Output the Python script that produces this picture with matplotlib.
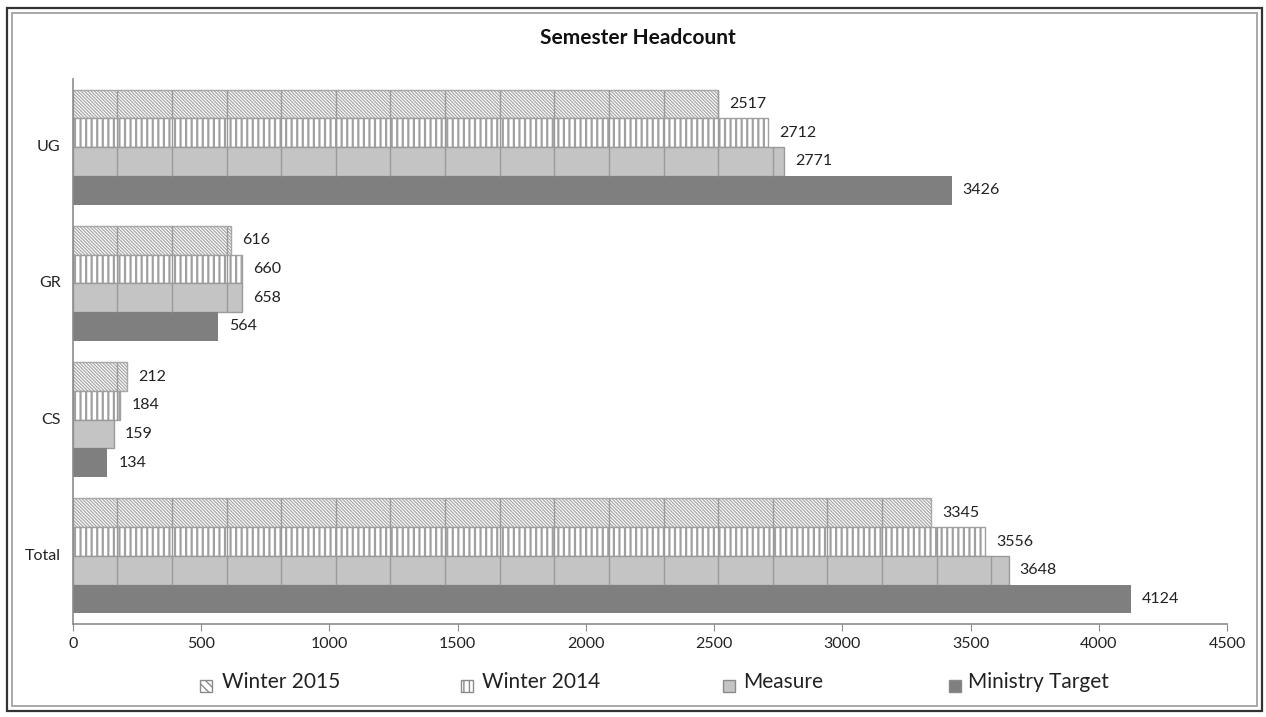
import matplotlib
matplotlib.use('Agg')
import matplotlib.pyplot as plt
from matplotlib.patches import Rectangle
import numpy as np

plt.rcParams['font.family'] = ['Lato', 'DejaVu Sans']
plt.rcParams['hatch.linewidth'] = 1.0

# ---- data ----
categories = ['UG', 'GR', 'CS', 'Total']
series_names = ['Winter 2015', 'Winter 2014', 'Measure', 'Ministry Target']
winter_2015 = [2517, 616, 212, 3345]
winter_2014 = [2712, 660, 184, 3556]
measure = [2771, 658, 159, 3648]
ministry_target = [3426, 564, 134, 4124]
x_ticks = [0, 500, 1000, 1500, 2000, 2500, 3000, 3500, 4000, 4500]
title = 'Semester Headcount'

series_values = [winter_2015, winter_2014, measure, ministry_target]

# ---- styles ----
EDGE = '#9a9a9a'
styles = [
    dict(facecolor='white', edgecolor='#a8a8a8', hatch='\\' * 10, linewidth=1.0, hlw=0.9),
    dict(facecolor='white', edgecolor='#a0a0a0', hatch='|||', linewidth=1.0, hlw=1.6),
    dict(facecolor='#c4c4c4', edgecolor=EDGE, hatch=None, linewidth=1.0, hlw=1.0),
    dict(facecolor='#7f7f7f', edgecolor='#7f7f7f', hatch=None, linewidth=0.0, hlw=1.0),
]
TILE_START = 173
TILE = 213

W, H = 1266, 717
fig = plt.figure(figsize=(W / 100, H / 100), dpi=100)
ax = fig.add_axes([73 / W, 1 - 624 / H, (1227 - 73) / W, (624 - 79) / H])

bar_h = 0.211
yc = np.arange(len(categories))
offsets = np.array([-1.5, -0.5, 0.5, 1.5]) * bar_h

for si, (vals, st) in enumerate(zip(series_values, styles)):
    ypos = yc + offsets[si]
    bars = ax.barh(ypos, vals, height=bar_h, color=st['facecolor'], edgecolor=st['edgecolor'],
                   hatch=st['hatch'], linewidth=st['linewidth'], label=series_names[si], zorder=2)
    for p in bars:
        try:
            p.set_hatch_linewidth(st['hlw'])
        except AttributeError:
            pass
    if si < 3:
        for y0, v in zip(ypos, vals):
            pos = np.arange(TILE_START, v, TILE)
            ax.vlines(pos, y0 - bar_h / 2, y0 + bar_h / 2, color=EDGE, lw=1.0, zorder=3)
    for y0, v in zip(ypos, vals):
        ax.annotate(str(v), xy=(v, y0), xytext=(8, 0), textcoords='offset points',
                    ha='left', va='center', fontsize=11.5, color='#222222')

ax.set_xlim(0, 4500)
ax.set_ylim(len(categories) - 0.5, -0.5)
ax.set_xticks(x_ticks)
ax.set_xticklabels([str(t) for t in x_ticks])
ax.set_yticks(yc)
ax.set_yticklabels(categories)
ax.tick_params(axis='x', length=5, color='#8c8c8c', labelsize=11.5, pad=4, labelcolor='#222222')
ax.tick_params(axis='y', length=0, labelsize=11.5, pad=9, labelcolor='#222222')
for lbl in ax.get_yticklabels():
    lbl.set_va('center')
for s in ['top', 'right']:
    ax.spines[s].set_visible(False)
for s in ['left', 'bottom']:
    ax.spines[s].set_color('#8c8c8c')
    ax.spines[s].set_linewidth(1.2)

fig.text(638 / W, 1 - 38 / H, title, ha='center', va='center', fontsize=15,
         fontweight='bold', color='#111111')

# ---- legend (manual) ----
marker_x = [200, 461, 723, 949]
text_x = [222, 482, 743, 968]
legend_hatch = ['\\\\\\\\', '|||', None, None]
for si in range(4):
    st = styles[si]
    fig.patches.append(Rectangle((marker_x[si] / W, 1 - 692 / H), 12 / W, 12 / H,
                                 transform=fig.transFigure, facecolor=st['facecolor'],
                                 edgecolor='#8a8a8a', hatch=legend_hatch[si],
                                 linewidth=1.0))
    fig.text(text_x[si] / W, 1 - 688 / H, series_names[si], ha='left', va='baseline',
             fontsize=15, color='#222222')

# ---- frame ----
fig.patches.append(Rectangle((7 / W, 1 - 711 / H), 1255 / W, 703 / H, transform=fig.transFigure,
                             fill=False, edgecolor='#333333', linewidth=1.6))
fig.patches.append(Rectangle((12 / W, 1 - 706 / H), 1245 / W, 693 / H, transform=fig.transFigure,
                             fill=False, edgecolor='#a8a8a8', linewidth=1.4))

fig.savefig('out.png', dpi=100)
